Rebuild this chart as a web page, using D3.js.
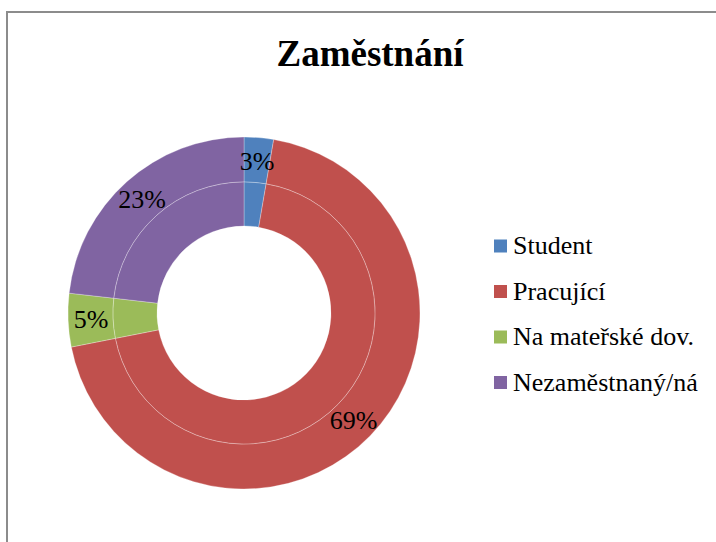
<!DOCTYPE html>
<html>
<head>
<meta charset="utf-8">
<script src="https://cdn.jsdelivr.net/npm/d3@7"></script>
<style>
	body { margin: 0; background: #fff; }
	svg { display: block; }
	svg text { font-family: "Liberation Serif", "Times New Roman", serif; }
</style>
</head>
<body>
<div id="chart"></div>
<script>
//data (shares in %)
var categories = ["Student", "Pracující", "Na mateřské dov.", "Nezaměstnaný/ná"];
var shares = [2.7, 69.2, 4.9, 23.2];
var labels = ["3%", "69%", "5%", "23%"];
var colors = ["#4F81BD", "#C0504D", "#9BBB59", "#8064A2"];
var rings = ["outer", "inner"];

var width = 716, height = 542;
var cx = 244, cy = 313;
var rHole = 87, rMid = 131, rOut = 176;

var svg = d3.select("#chart").append("svg")
	.attr("width", width)
	.attr("height", height);

//chart frame, it runs off the picture on right and bottom
svg.append("path")
	.attr("d", "M7," + height + " V12 H" + width)
	.attr("fill", "none")
	.attr("stroke", "#8c8c8c")
	.attr("stroke-width", 2);

svg.append("text")
	.attr("x", 370)
	.attr("y", 66)
	.attr("text-anchor", "middle")
	.style("font-weight", "bold")
	.style("font-size", "37px")
	.text("Zaměstnání");

var pie = d3.pie().sort(null).value(function(d) { return d; });
var arcs = pie(shares);

var g = svg.append("g").attr("transform", "translate(" + cx + "," + cy + ")");

//two rings, same series drawn twice
var ringRadii = { outer: [rMid, rOut], inner: [rHole, rMid] };
rings.forEach(function(ring) {
	var arc = d3.arc().innerRadius(ringRadii[ring][0]).outerRadius(ringRadii[ring][1]);
	g.append("g").attr("class", ring)
		.selectAll("path")
		.data(arcs)
	.enter().append("path")
		.attr("d", arc)
		.attr("fill", function(d, i) { return colors[i]; })
		.attr("stroke", "#ffffff")
		.attr("stroke-opacity", 0.4)
		.attr("stroke-width", 0.7);
});

var labelArc = d3.arc().innerRadius(153).outerRadius(153);
g.selectAll("text.pct")
	.data(arcs)
.enter().append("text")
	.attr("class", "pct")
	.attr("transform", function(d) { return "translate(" + labelArc.centroid(d) + ")"; })
	.attr("text-anchor", "middle")
	.attr("dy", "0.35em")
	.style("font-size", "26px")
	.text(function(d, i) { return labels[i]; });

//legend
var legend = svg.append("g").attr("transform", "translate(494,246)");
var rows = legend.selectAll("g")
	.data(categories)
.enter().append("g")
	.attr("transform", function(d, i) { return "translate(0," + (i * 45.5) + ")"; });

rows.append("rect")
	.attr("x", 0)
	.attr("y", -6.5)
	.attr("width", 13)
	.attr("height", 13)
	.attr("fill", function(d, i) { return colors[i]; });

rows.append("text")
	.attr("x", 19)
	.attr("y", 8)
	.style("font-size", "26px")
	.text(function(d) { return d; });
</script>
</body>
</html>
